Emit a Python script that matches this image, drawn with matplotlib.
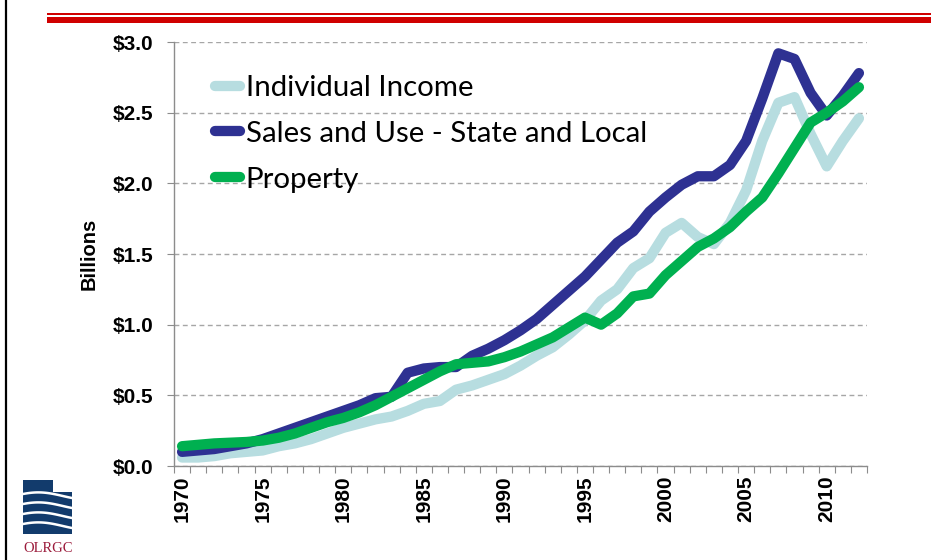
import matplotlib
matplotlib.use("Agg")
import matplotlib.pyplot as plt
from matplotlib.lines import Line2D
from matplotlib.patches import Polygon, Rectangle
from matplotlib.transforms import Affine2D
import numpy as np

# Annual tax collections, billions of dollars
years = list(range(1970, 2013))
individual_income = [0.06, 0.06, 0.07, 0.09, 0.10, 0.11, 0.14, 0.16, 0.19, 0.23,
                     0.27, 0.30, 0.33, 0.35, 0.39, 0.44, 0.46, 0.54, 0.57, 0.61,
                     0.65, 0.71, 0.78, 0.84, 0.93, 1.03, 1.17, 1.25, 1.40, 1.47,
                     1.65, 1.72, 1.62, 1.57, 1.72, 1.95, 2.30, 2.57, 2.61, 2.35,
                     2.12, 2.30, 2.46]
sales_and_use = [0.10, 0.11, 0.12, 0.14, 0.16, 0.19, 0.23, 0.27, 0.31, 0.35,
                 0.39, 0.43, 0.48, 0.49, 0.66, 0.69, 0.70, 0.70, 0.78, 0.83,
                 0.89, 0.96, 1.04, 1.14, 1.24, 1.34, 1.46, 1.58, 1.66, 1.80,
                 1.90, 1.99, 2.05, 2.05, 2.13, 2.30, 2.60, 2.92, 2.88, 2.64,
                 2.48, 2.62, 2.78]
property_tax = [0.14, 0.15, 0.16, 0.165, 0.17, 0.18, 0.20, 0.23, 0.27, 0.31,
                0.34, 0.38, 0.43, 0.49, 0.55, 0.61, 0.67, 0.72, 0.73, 0.74,
                0.77, 0.81, 0.86, 0.91, 0.98, 1.05, 1.00, 1.08, 1.20, 1.22,
                1.35, 1.45, 1.55, 1.61, 1.69, 1.80, 1.90, 2.07, 2.25, 2.43,
                2.50, 2.58, 2.68]
series_labels = ["Individual Income", "Sales and Use - State and Local", "Property"]
series_colors = ["#B7DDE0", "#2E3192", "#00B050"]
y_ticks = [0.0, 0.5, 1.0, 1.5, 2.0, 2.5, 3.0]
y_tick_labels = ["$0.0", "$0.5", "$1.0", "$1.5", "$2.0", "$2.5", "$3.0"]
x_label_years = [1970, 1975, 1980, 1985, 1990, 1995, 2000, 2005, 2010]

W, H = 953, 560
fig = plt.figure(figsize=(W / 100, H / 100), dpi=100)
fig.patch.set_facecolor("white")
# pixel coordinates measured from the top-left corner
px = Affine2D().scale(1 / W, -1 / H).translate(0, 1) + fig.transFigure

ax = fig.add_axes([174 / W, 1 - 466 / H, (867 - 174) / W, (466 - 42) / H])

x = np.arange(len(years))
handles = []
for vals, col, lab in zip([individual_income, sales_and_use, property_tax],
                          series_colors, series_labels):
    ln, = ax.plot(x, vals, color=col, lw=7.4, solid_capstyle="round",
                  solid_joinstyle="round", label=lab, zorder=3)
    handles.append(ln)

ax.set_xlim(-0.5, len(years) - 0.5)
ax.set_ylim(0, 3.0)

ax.set_yticks(y_ticks, y_tick_labels)
ax.yaxis.grid(True, linestyle=(0, (3.5, 2.5)), color="#A6A6A6", lw=1.0)
ax.set_axisbelow(True)

ax.set_xticks(np.arange(-0.5, len(years), 1.0))
ax.set_xticklabels([])
lab_pos = [years.index(y) for y in x_label_years]
ax.set_xticks(lab_pos, [str(y) for y in x_label_years], minor=True)

for s in ["top", "right"]:
    ax.spines[s].set_visible(False)
for s in ["left", "bottom"]:
    ax.spines[s].set_color("#8C8C8C")
    ax.spines[s].set_linewidth(1.0)

ax.tick_params(axis="y", which="major", length=5, color="#8C8C8C",
               labelsize=15, pad=10)
ax.tick_params(axis="x", which="major", length=5, color="#8C8C8C")
ax.tick_params(axis="x", which="minor", length=0, labelsize=15, pad=7,
               labelrotation=90)
for t in ax.get_yticklabels() + ax.get_xticklabels(minor=True):
    t.set_fontfamily("Liberation Sans")
    t.set_fontweight("bold")

ax.set_ylabel("Billions", fontsize=14.5, fontweight="bold",
              fontfamily="Liberation Sans", labelpad=10)

leg = ax.legend(handles=handles, loc="upper left",
                bbox_to_anchor=(0.059, 0.922), frameon=False,
                prop=dict(family="Lato", size=21.2),
                handlelength=0.85, handletextpad=0.2, labelspacing=0.67,
                borderpad=0, borderaxespad=0)

# header rules
fig.add_artist(Rectangle((47, 12.5), 884, 2, transform=px,
                         color="#D00000", lw=0))
fig.add_artist(Rectangle((47, 17), 884, 6, transform=px,
                         color="#D00000", lw=0))
# left border
fig.add_artist(Line2D([6, 6], [0, H], transform=px, color="black", lw=1.6))

# logo mark
navy = "#123B6C"
fig.add_artist(Polygon([(23, 480), (53, 480), (53, 492), (72, 492),
                        (72, 534), (23, 534)], closed=True, transform=px,
                       color=navy, lw=0))
t = np.linspace(0, 1, 30)
for y0 in [494, 504, 514, 524]:
    xs = 23 + 49 * t
    ys = y0 + 4 * np.sin(t * np.pi / 2) ** 2 - 3 * np.sin(t * np.pi)
    fig.add_artist(Line2D(xs, ys, transform=px, color="white", lw=1.8))
fig.text(48 / W, 1 - 548 / H, "OLRGC", ha="center", va="center",
         fontsize=10.5, family="Liberation Serif", color="#9B1B3B")

fig.savefig("out.png", dpi=100, facecolor="white")
